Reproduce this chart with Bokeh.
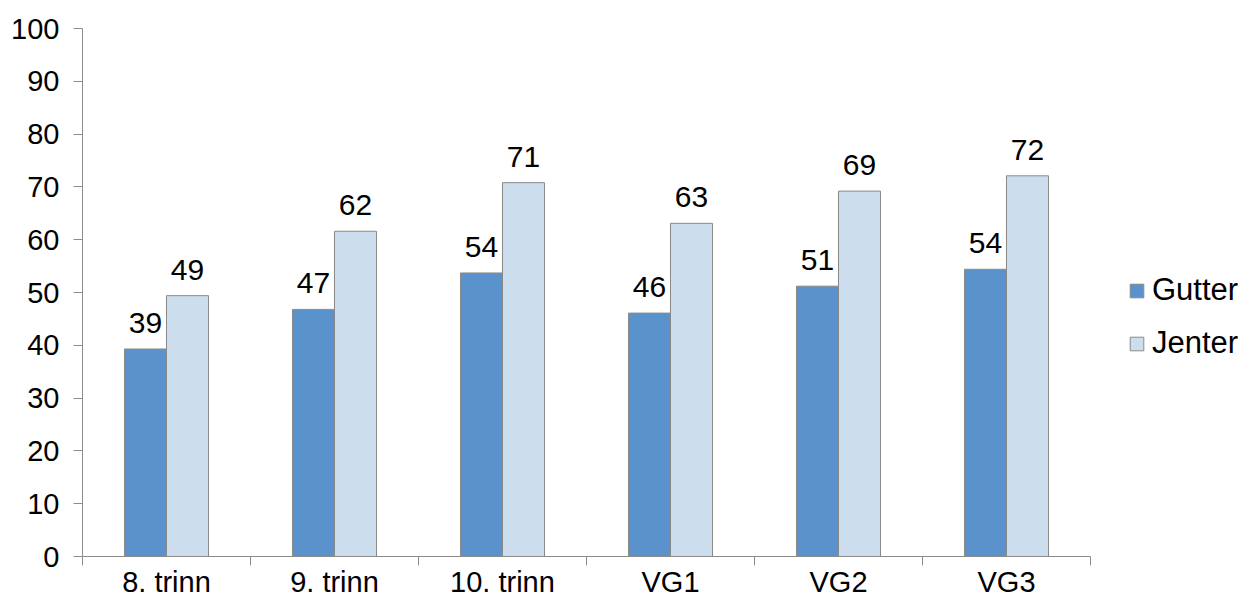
from bokeh.plotting import figure
from bokeh.models import (Range1d, FixedTicker, ColumnDataSource, Legend, LegendItem, LabelSet)
from bokeh.transform import dodge
from bokeh.core.properties import value
from bokeh.embed import file_html
from bokeh.resources import INLINE

categories = ["8. trinn", "9. trinn", "10. trinn", "VG1", "VG2", "VG3"]
gutter = [39.3, 46.8, 53.7, 46.1, 51.2, 54.4]
jenter = [49.4, 61.6, 70.8, 63.1, 69.2, 72.1]
y_ticks = [0, 10, 20, 30, 40, 50, 60, 70, 80, 90, 100]

GUTTER_COLOR = "#5A93CB"
JENTER_COLOR = "#CCDDEE"
EDGE = "#8A8A8A"
AXIS = "#8C8C8C"
FONT = "Liberation Sans"
FS = "29px"

centers = [i + 0.5 for i in range(len(categories))]
bounds = [float(i) for i in range(len(categories) + 1)]

src = ColumnDataSource(dict(
    x=centers,
    gutter=gutter,
    jenter=jenter,
    glab=[str(round(v)) for v in gutter],
    jlab=[str(round(v)) for v in jenter],
))

p = figure(frame_width=1008, frame_height=528, output_backend="svg",
           toolbar_location=None, x_range=Range1d(0, 6), y_range=Range1d(0, 100),
           min_border_left=82, min_border_top=28, min_border_right=139, min_border_bottom=40)
p.outline_line_color = None
p.grid.visible = False
p.background_fill_color = "white"

rg = p.vbar(x=dodge("x", -0.125, range=p.x_range), top="gutter", width=0.25, source=src,
            fill_color=GUTTER_COLOR, line_color=EDGE, line_width=1)
rj = p.vbar(x=dodge("x", 0.125, range=p.x_range), top="jenter", width=0.25, source=src,
            fill_color=JENTER_COLOR, line_color=EDGE, line_width=1)

for col, lab, off in (("gutter", "glab", -0.125), ("jenter", "jlab", 0.125)):
    ls = LabelSet(x=dodge("x", off, range=p.x_range), y=col, text=lab, source=src,
                  text_align="center", text_baseline="alphabetic", y_offset=16,
                  text_font=value(FONT), text_font_size=value("30px"), text_color="black")
    p.add_layout(ls)

# y axis
ya = p.yaxis[0]
ya.ticker = FixedTicker(ticks=y_ticks, minor_ticks=[])
ya.axis_line_color = AXIS
ya.major_tick_line_color = AXIS
ya.major_tick_out = 9
ya.major_tick_in = 0
ya.minor_tick_line_color = None
ya.major_label_text_font = FONT
ya.major_label_text_font_size = FS
ya.major_label_text_color = "black"
ya.major_label_standoff = 14

# x axis
xa = p.xaxis[0]
xa.ticker = FixedTicker(ticks=centers, minor_ticks=bounds)
xa.major_label_overrides = {c: categories[i] for i, c in enumerate(centers)}
xa.axis_line_color = AXIS
xa.major_tick_line_color = None
xa.major_tick_out = 0
xa.major_tick_in = 0
xa.minor_tick_line_color = AXIS
xa.minor_tick_out = 9
xa.minor_tick_in = 0
xa.major_label_text_font = FONT
xa.major_label_text_font_size = FS
xa.major_label_text_color = "black"
xa.major_label_standoff = 0

legend = Legend(items=[LegendItem(label="Gutter", renderers=[rg]),
                       LegendItem(label="Jenter", renderers=[rj])],
                location=(38, 195), orientation="vertical",
                label_text_font=FONT, label_text_font_size="31px",
                label_text_color="black", glyph_width=17, glyph_height=17,
                label_height=31, spacing=17, label_standoff=7,
                padding=0, margin=0, border_line_color=None,
                background_fill_alpha=0)
p.add_layout(legend, "right")

open("out.html", "w").write(file_html(p, INLINE))
